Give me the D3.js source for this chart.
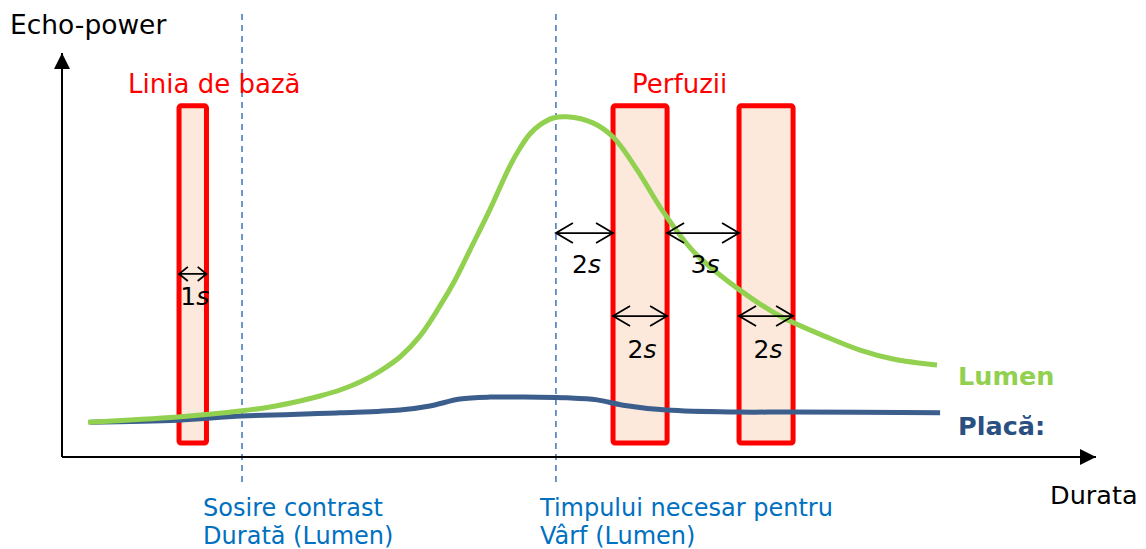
<html lang="ro">
<head>
    <meta charset="utf-8">
    <title>Echo-power</title>
    <script src="https://cdn.jsdelivr.net/npm/d3@7"></script>
    <style>
        body { margin: 0; background: #fff; }
        text { font-family: "DejaVu Sans", Verdana, sans-serif; }
    </style>
</head>
<body>
    <svg width="1146" height="549"></svg>
    <script>
        // time in seconds (x), echo power in arbitrary units 0-100 (y)
        var lumenT = [0.93, 4.14, 6.43, 7.43, 8.5, 9.21, 9.93, 10.64, 11.36, 12.07, 12.79, 13.5, 14.04, 14.57, 15.29, 16.0, 16.36, 16.71, 17.07, 17.54, 18.04, 18.96, 19.68, 20.54, 21.36, 22.32, 22.79, 24.21, 25.64, 27.32, 28.5, 29.68, 31.25];
        var lumenV = [8.6, 9.9, 11.4, 12.35, 13.83, 15.06, 16.54, 18.52, 21.23, 24.69, 29.9, 37.3, 43.7, 51.1, 61.2, 71.9, 76.3, 79.75, 82.0, 83.7, 84.0, 82.5, 79.0, 70.9, 61.7, 52.6, 49.1, 41.2, 34.8, 29.6, 26.4, 24.2, 22.7];

        var placaT = [1.0, 4.14, 6.43, 9.93, 12.07, 13.14, 14.21, 15.29, 16.36, 18.04, 19.11, 20.04, 21.6, 24.1, 26.1, 31.36];
        var placaV = [8.6, 9.1, 10.1, 10.9, 11.6, 12.6, 14.3, 14.8, 14.8, 14.6, 14.1, 12.8, 11.6, 11.1, 11.1, 10.9];

        // acquisition windows [start, end] and their height
        var windows = [[4.18, 5.16], [19.68, 21.61], [24.18, 26.11]];
        var windowTop = 86.7, windowBottom = 3.46;
        var windowTitles = ["Linia de bază", "Perfuzii"];
        var windowTitleT = [2.36, 20.36];

        // reference times: contrast arrival, time to peak
        var markers = [6.43, 17.64];
        var markerLabelT = [5.04, 17.07];
        var markerLabels = [["Sosire contrast", "Durată (Lumen)"], ["Timpului necesar pentru", "Vârf (Lumen)"]];

        // interval arrows: from, to, level, label level, number of seconds
        var gapFrom = [4.18, 17.64, 21.61, 19.68, 24.18];
        var gapTo = [5.16, 19.68, 24.18, 21.61, 26.11];
        var gapLevel = [45.2, 55.3, 55.3, 34.8, 34.8];
        var gapLabelLevel = [37.5, 45.4, 45.4, 24.4, 24.4];
        var gapSeconds = ["1", "2", "3", "2", "2"];

        var svg = d3.select("svg");

        var x = d3.scaleLinear().domain([0, 37]).range([62, 1098]);
        var y = d3.scaleLinear().domain([0, 100]).range([457, 52]);

        // windows
        svg.selectAll(".win")
            .data(windows)
            .enter().append("rect")
            .attr("class", "win")
            .attr("x", function(d) { return x(d[0]); })
            .attr("y", y(windowTop))
            .attr("width", function(d) { return x(d[1]) - x(d[0]); })
            .attr("height", y(windowBottom) - y(windowTop))
            .attr("rx", 2)
            .attr("fill", "#fce9db")
            .attr("stroke", "#ff0000")
            .attr("stroke-width", 5);

        // dashed markers
        svg.selectAll(".marker")
            .data(markers)
            .enter().append("line")
            .attr("class", "marker")
            .attr("x1", function(d) { return x(d); })
            .attr("x2", function(d) { return x(d); })
            .attr("y1", 14)
            .attr("y2", 486)
            .attr("stroke", "#4a7ebb")
            .attr("stroke-width", 1.6)
            .attr("stroke-dasharray", "6,5");

        // axes
        svg.append("defs").append("marker")
            .attr("id", "head")
            .attr("viewBox", "0 0 10 10")
            .attr("refX", 10).attr("refY", 5)
            .attr("markerWidth", 8).attr("markerHeight", 8)
            .attr("markerUnits", "strokeWidth")
            .attr("orient", "auto")
            .append("path").attr("d", "M0,0L10,5L0,10Z").attr("fill", "#000");

        svg.append("line")
            .attr("x1", x(0)).attr("y1", y(0))
            .attr("x2", x(0)).attr("y2", 53)
            .attr("stroke", "#000").attr("stroke-width", 2)
            .attr("marker-end", "url(#head)");
        svg.append("line")
            .attr("x1", x(0)).attr("y1", y(0))
            .attr("x2", 1096).attr("y2", y(0))
            .attr("stroke", "#000").attr("stroke-width", 2)
            .attr("marker-end", "url(#head)");

        // curves
        var line = d3.line()
            .curve(d3.curveCatmullRom.alpha(0.5))
            .x(function(d) { return x(d[0]); })
            .y(function(d) { return y(d[1]); });

        svg.append("path")
            .datum(d3.zip(placaT, placaV))
            .attr("d", line)
            .attr("fill", "none")
            .attr("stroke", "#3b5e8c")
            .attr("stroke-width", 5);

        svg.append("path")
            .datum(d3.zip(lumenT, lumenV))
            .attr("d", line)
            .attr("fill", "none")
            .attr("stroke", "#92d050")
            .attr("stroke-width", 5);

        // interval arrows
        var gaps = gapFrom.map(function(f, i) {
            return { from: f, to: gapTo[i], level: gapLevel[i], labelLevel: gapLabelLevel[i], sec: gapSeconds[i] };
        });

        var arrow = svg.selectAll(".gap")
            .data(gaps)
            .enter().append("g")
            .attr("class", "gap");

        arrow.append("path")
            .attr("d", function(d) {
                var a = x(d.from), b = x(d.to), yy = y(d.level);
                var h = Math.min(17, (b - a) * 0.32), w = Math.min(10, h * 0.8);
                return "M" + a + "," + yy + "L" + b + "," + yy +
                    "M" + (a + h) + "," + (yy - w) + "L" + a + "," + yy + "L" + (a + h) + "," + (yy + w) +
                    "M" + (b - h) + "," + (yy - w) + "L" + b + "," + yy + "L" + (b - h) + "," + (yy + w);
            })
            .attr("fill", "none")
            .attr("stroke", "#000")
            .attr("stroke-width", 1.8);

        var gapText = arrow.append("text")
            .attr("x", function(d) { return (x(d.from) + x(d.to)) / 2 + 2; })
            .attr("y", function(d) { return y(d.labelLevel); })
            .attr("text-anchor", "middle")
            .style("font-size", "25px")
            .attr("fill", "#000");
        gapText.append("tspan").text(function(d) { return d.sec; });
        gapText.append("tspan").attr("font-style", "italic").text("s");

        // texts
        svg.append("text").attr("x", 10).attr("y", 34)
            .style("font-size", "26.5px").attr("fill", "#000").text("Echo-power");
        svg.append("text").attr("x", 1050).attr("y", 504)
            .style("font-size", "25.5px").attr("fill", "#000").text("Durata");

        svg.selectAll(".wtitle")
            .data(windowTitles)
            .enter().append("text")
            .attr("class", "wtitle")
            .attr("x", function(d, i) { return x(windowTitleT[i]); })
            .attr("y", 93)
            .style("font-size", "26px")
            .attr("fill", "#ff0000")
            .text(function(d) { return d; });

        svg.append("text").attr("x", 958).attr("y", 385)
            .style("font-size", "25.5px").style("font-weight", "bold").attr("fill", "#92d050").text("Lumen");
        svg.append("text").attr("x", 958).attr("y", 435)
            .style("font-size", "25.5px").style("font-weight", "bold").attr("fill", "#2a5082").text("Placă:");

        svg.selectAll(".mlabel")
            .data(markers)
            .enter().append("text")
            .attr("class", "mlabel")
            .attr("y", 516)
            .style("font-size", "24px")
            .attr("fill", "#0070c0")
            .each(function(d, i) {
                var t = d3.select(this);
                markerLabels[i].forEach(function(s, k) {
                    t.append("tspan").attr("x", x(markerLabelT[i])).attr("dy", k === 0 ? 0 : 28).text(s);
                });
            });
    </script>
</body>
</html>
